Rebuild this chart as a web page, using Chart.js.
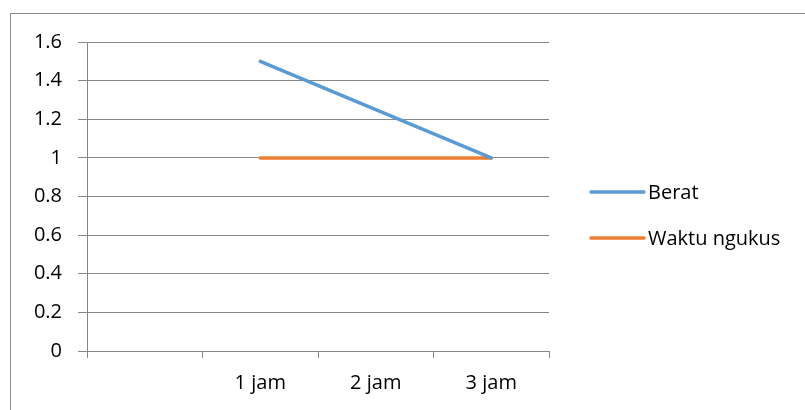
<!DOCTYPE html>
<html>
<head>
<meta charset="utf-8">
<script src="https://cdn.jsdelivr.net/npm/chart.js@4/dist/chart.umd.min.js"></script>
<style>
  html, body { margin: 0; padding: 0; background: #fff; }
  #wrap { position: relative; width: 805px; height: 410px; overflow: hidden; }
  #frame { position: absolute; left: 10px; top: 13px; width: 820px; height: 420px; border: 1px solid #8c8c8c; }
  canvas { position: absolute; left: 0; top: 0; }
</style>
</head>
<body>
<div id="wrap">
  <div id="frame"></div>
  <canvas id="chart" width="805" height="410"></canvas>
</div>
<script>
// data
const categories = ["", "1 jam", "2 jam", "3 jam"];
const berat = [null, 1.5, 1.25, 1];
const waktuNgukus = [null, 1, 1, 1];
const seriesNames = ["Berat", "Waktu ngukus"];
const seriesColors = ["#5b9bd5", "#ed7d31"];

const FONT = "'Open Sans', sans-serif";
const FONT_SIZE = 20;
const gridColor = "#878787";

// legend drawn to the right of the plot, like the original
const sideLegend = {
  id: "sideLegend",
  afterDraw(chart) {
    const ctx = chart.ctx;
    const x0 = 591, x1 = 644;
    const rows = [192, 238];
    ctx.save();
    ctx.font = FONT_SIZE + "px " + FONT;
    ctx.textBaseline = "middle";
    chart.data.datasets.forEach((ds, i) => {
      const y = rows[i];
      ctx.strokeStyle = ds.borderColor;
      ctx.lineWidth = 3.5;
      ctx.lineCap = "round";
      ctx.beginPath();
      ctx.moveTo(x0, y);
      ctx.lineTo(x1, y);
      ctx.stroke();
      ctx.fillStyle = "#000";
      ctx.fillText(ds.label, x1 + 4, y + 1);
    });
    ctx.restore();
  }
};

new Chart(document.getElementById("chart").getContext("2d"), {
  type: "line",
  data: {
    labels: categories,
    datasets: [
      { label: seriesNames[0], data: berat, borderColor: seriesColors[0] },
      { label: seriesNames[1], data: waktuNgukus, borderColor: seriesColors[1] }
    ]
  },
  options: {
    responsive: false,
    animation: false,
    layout: { padding: { left: 10, top: 42, right: 256, bottom: 0 } },
    elements: {
      line: { borderWidth: 3.5, borderCapStyle: "round", tension: 0 },
      point: { radius: 0, hoverRadius: 0 }
    },
    plugins: {
      legend: { display: false },
      tooltip: { enabled: false }
    },
    scales: {
      x: {
        offset: true,
        grid: {
          offset: true,
          drawOnChartArea: false,
          drawTicks: true,
          tickLength: 7,
          color: gridColor
        },
        border: { display: false },
        ticks: { color: "#000", padding: 13, font: { family: FONT, size: FONT_SIZE }, maxRotation: 0 },
        afterFit(scale) { scale.height = 59; }
      },
      y: {
        min: 0,
        max: 1.6,
        ticks: {
          stepSize: 0.2,
          color: "#000",
          padding: 16,
          font: { family: FONT, size: FONT_SIZE },
          callback: (v) => String(Number(v.toFixed(1)))
        },
        grid: { color: gridColor, tickLength: 9 },
        border: { color: gridColor },
        afterFit(scale) { scale.width = 77; }
      }
    }
  },
  plugins: [sideLegend]
});
</script>
</body>
</html>
